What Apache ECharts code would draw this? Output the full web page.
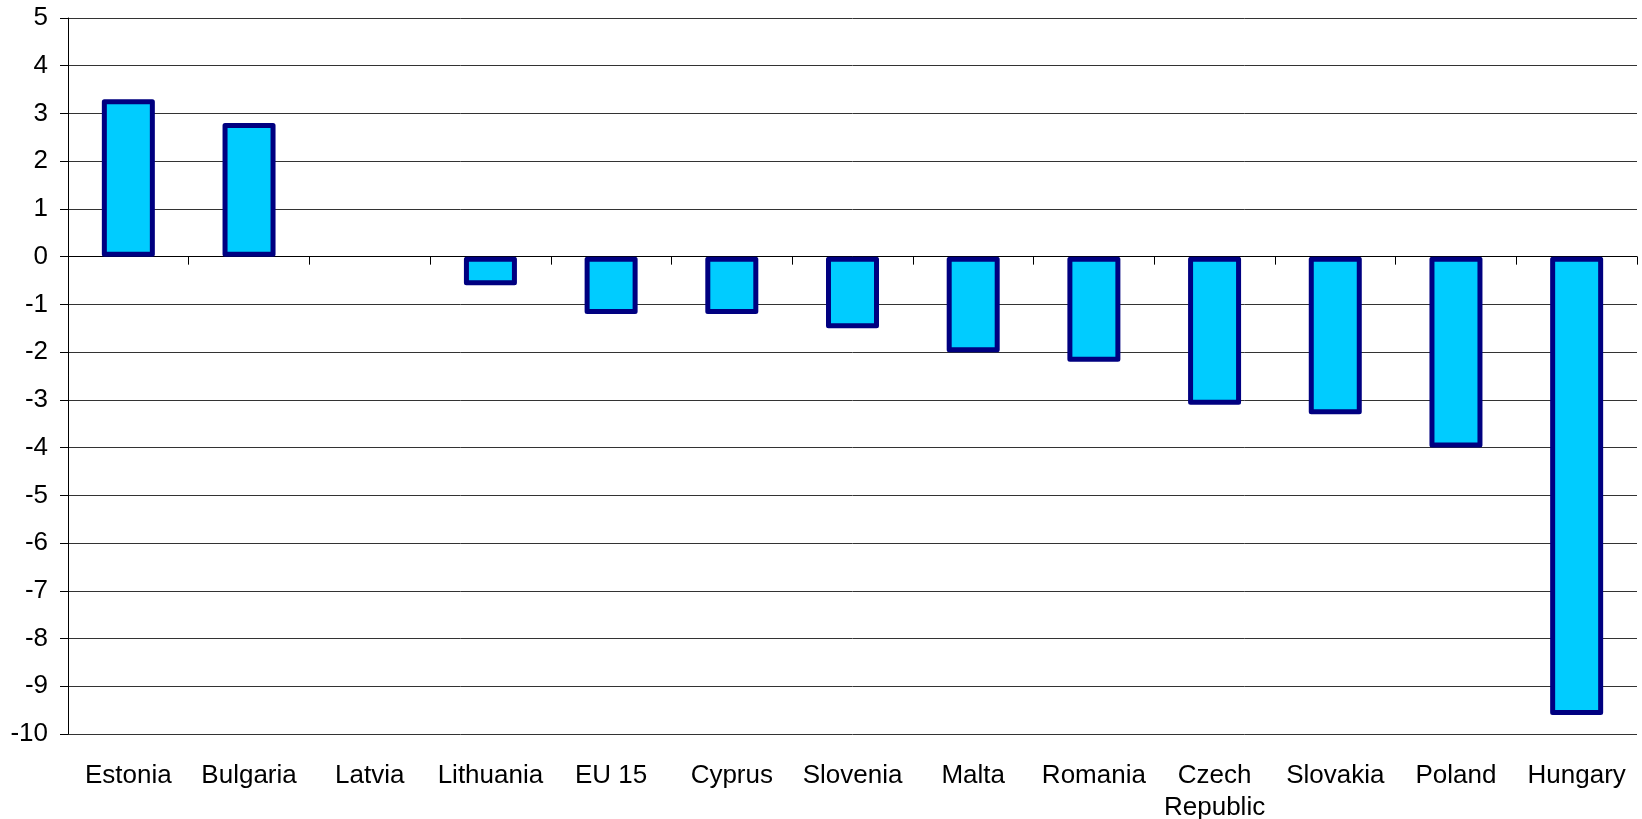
<!DOCTYPE html>
<html>
<head>
<meta charset="utf-8">
<script src="https://cdn.jsdelivr.net/npm/echarts@6/dist/echarts.min.js"></script>
<style>
  html, body { margin: 0; padding: 0; background: #fff; }
  #chart { width: 1642px; height: 819px; }
</style>
</head>
<body>
<div id="chart"></div>
<script>
// categories and values
const countries = ["Estonia", "Bulgaria", "Latvia", "Lithuania", "EU 15", "Cyprus", "Slovenia",
  "Malta", "Romania", "Czech\nRepublic", "Slovakia", "Poland", "Hungary"];
const values = [3.3, 2.8, 0, -0.6, -1.2, -1.2, -1.5, -2.0, -2.2, -3.1, -3.3, -4.0, -9.6];

const yMin = -10;
const yMax = 5;

const font = "Liberation Sans, Arial, sans-serif";

// zero bars get no outline (Latvia shows nothing)
const barData = values.map(v => v === 0 ? { value: v, itemStyle: { borderWidth: 0 } } : v);

const chart = echarts.init(document.getElementById("chart"));
chart.setOption({
  animation: false,
  grid: { left: 68, right: 5, top: 18, bottom: 85, outerBoundsMode: "none", containLabel: false },
  xAxis: [
    {
      // axis on zero line, ticks only
      type: "category",
      data: countries,
      axisLine: { onZero: true, lineStyle: { color: "#000", width: 1 } },
      axisTick: { show: true, length: 8, lineStyle: { color: "#000" } },
      axisLabel: { show: false },
      splitLine: { show: false }
    },
    {
      // labels along the bottom
      type: "category",
      data: countries,
      position: "bottom",
      axisLine: { show: false, onZero: false },
      axisTick: { show: false },
      axisLabel: {
        show: true,
        interval: 0,
        margin: 26,
        color: "#000",
        fontFamily: font,
        fontSize: 26,
        lineHeight: 32
      }
    }
  ],
  yAxis: {
    type: "value",
    min: yMin,
    max: yMax,
    interval: 1,
    axisLine: { show: true, lineStyle: { color: "#000" } },
    axisTick: { show: true, length: 8, lineStyle: { color: "#000" } },
    axisLabel: { margin: 20, color: "#000", fontFamily: font, fontSize: 26 },
    splitLine: { show: true, lineStyle: { color: "#333", width: 1 } }
  },
  series: [
    {
      type: "bar",
      xAxisIndex: 0,
      data: barData,
      barWidth: 53,
      itemStyle: {
        color: "#00CCFF",
        borderColor: "#000080",
        borderWidth: 5,
        borderJoin: "round"
      }
    }
  ]
});
</script>
</body>
</html>
